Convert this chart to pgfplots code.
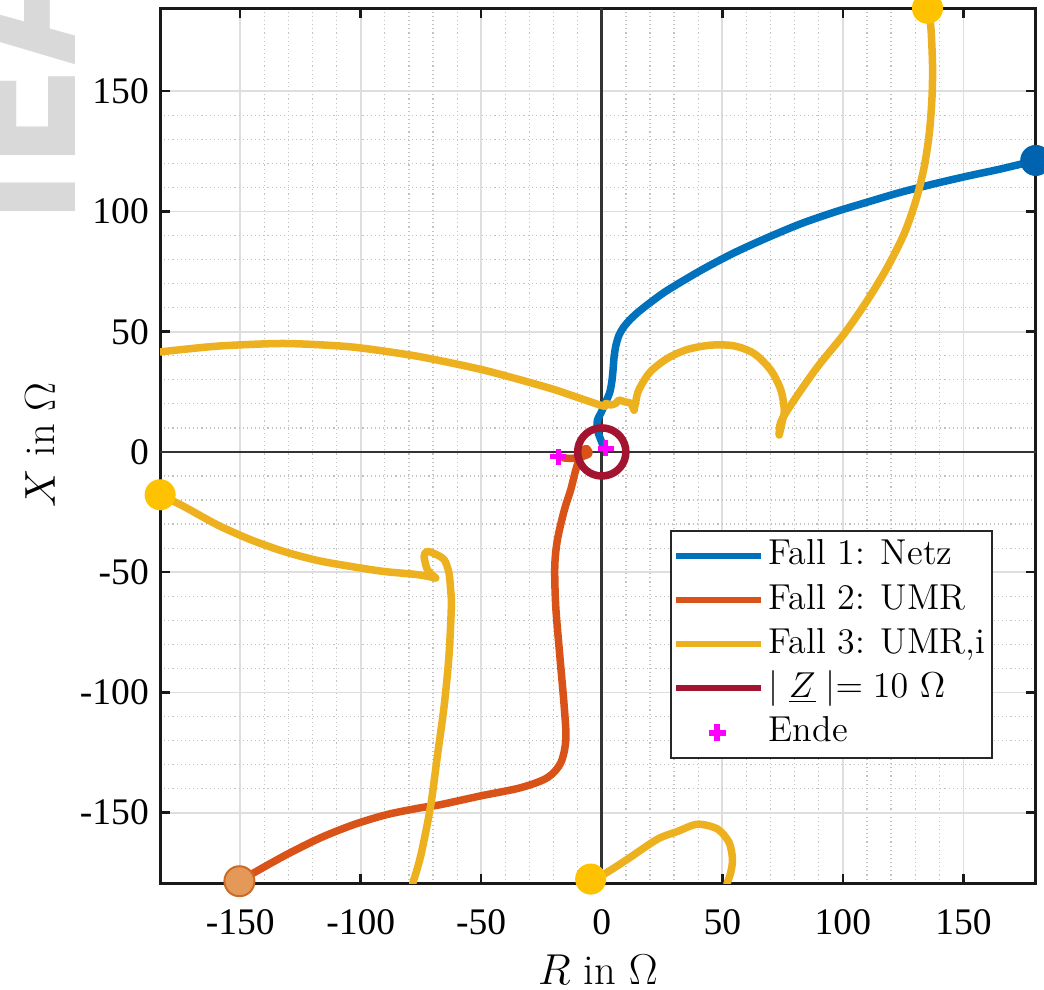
\documentclass[border=0pt]{standalone}
\usepackage{fontspec}
\usepackage{graphicx}
\usepackage{pgfplots}
\pgfplotsset{compat=1.18}
\newfontfamily\timesfont{Liberation Serif}
\newfontfamily\wmfont{DejaVu Sans}
\definecolor{blueC}{rgb}{0,0.447,0.741}
\definecolor{orangeC}{rgb}{0.85,0.325,0.098}
\definecolor{yellowC}{rgb}{0.929,0.694,0.125}
\definecolor{redC}{rgb}{0.635,0.078,0.184}
\definecolor{blueM}{rgb}{0,0.39,0.69}
\definecolor{yellowM}{rgb}{1,0.76,0}
\definecolor{orangeM}{rgb}{0.9,0.6,0.35}
\definecolor{orangeE}{rgb}{0.8,0.42,0.15}
\definecolor{magC}{rgb}{1,0,1}
\begin{document}
\begin{tikzpicture}
\node[rotate=90, anchor=base west, inner sep=0pt, text=black!15, font=\wmfont\bfseries\fontsize{76}{76}\selectfont] at (-34pt,262.9pt) {\scalebox{0.8}[1]{IEA}};
\begin{axis}[
  at={(0pt,0pt)}, anchor=south west,
  width=350pt, height=350pt, scale only axis,
  xmin=-183.2, xmax=180, ymin=-179.6, ymax=184.5,
  xtick={-150,-100,-50,0,50,100,150},
  xticklabels={-150,-100,-50,0,50,100,150},
  ytick={-150,-100,-50,0,50,100,150},
  yticklabels={-150,-100,-50,0,50,100,150},
  minor tick num=4,
  minor tick length=0pt,
  major tick length=4pt,
  tick align=inside,
  major tick style={black!90, line width=1pt},
  grid=both,
  major grid style={black!13, line width=0.7pt},
  minor grid style={black!24, line width=0.5pt, dash pattern=on 0.45pt off 1.2pt},
  axis line style={black!90, line width=1.2pt},
  ticklabel style={font=\timesfont\fontsize{15}{18}\selectfont},
  xticklabel style={anchor=center, yshift=-15.5pt},
  yticklabel style={anchor=east, xshift=-1pt},
  xlabel={$R$ in $\Omega$}, ylabel={$X$ in $\Omega$},
  label style={font=\fontsize{17}{20}\selectfont},
  xlabel style={at={(axis description cs:0.5,-0.098)}, anchor=center},
  ylabel style={at={(axis description cs:-0.137,0.501)}, anchor=center},
  legend cell align=left,
  legend style={at={(0.951,0.143)}, anchor=south east, draw=black!85, line width=0.8pt, fill=white,
    font=\fontsize{14.4}{17}\selectfont, inner xsep=0.6pt, inner ysep=1.1pt, row sep=0pt,
    nodes={inner sep=2pt, text height=10.5pt, text depth=3.2pt}},
]
% zero lines
\addplot[black!80, line width=1.1pt, forget plot] coordinates {(-183.2,0) (180,0)};
\addplot[black!80, line width=1.1pt, forget plot] coordinates {(0,-179.6) (0,184.5)};
% Fall 1
\addplot[blueC, line width=3pt, smooth, tension=0.5, line join=round, line cap=round, forget plot] coordinates {
(180,121.2) (165.6,117.7) (151.7,114.7) (137.9,111.5) (124.1,108.0) (110.2,103.9) (96.4,99.7) (82.6,94.9) (68.7,89.1) (54.9,82.8) (41.1,75.5) (27.2,67.2) (20.5,62.4) (15.5,58.5) (11.8,55.1) (9.0,51.8) (7.0,48.2) (5.8,44.0) (5.1,39.5) (4.7,34.5) (4.2,29.5) (3.3,24.8) (1.7,20.9) (-0.4,16.1) (-1.8,13.3) (-1.8,9.1) (-0.4,5.0) (1.0,1.5)};
% Fall 2
\addplot[orangeC, line width=3pt, smooth, tension=0.5, line join=round, line cap=round, forget plot] coordinates {
(-150.3,-178.5) (-144.5,-175.1) (-130.7,-167.4) (-116.8,-160.5) (-103.0,-155.0) (-89.2,-150.8) (-75.4,-148.0) (-67.1,-146.7) (-50.2,-143.0) (-33.6,-139.6) (-22.5,-135.4) (-17.0,-129.2) (-14.9,-119.5) (-15.6,-105.7) (-17.4,-84.9) (-19.1,-64.2) (-19.5,-47.6) (-18.4,-36.5) (-15.5,-24) (-12.9,-15.8) (-10.8,-7.5) (-8.7,-1.2) (-6.6,1.5) (-5.3,-0.6) (-8.0,-1.9) (-11.5,-2.6) (-14.9,-2.6) (-18.1,-1.9)};
% Fall 3
\addplot[yellowC, line width=3pt, smooth, tension=0.5, line join=round, line cap=round, forget plot] coordinates {
(135.1,184.5) (136.5,176.5) (137.2,159.9) (136.9,146.1) (135.8,132.2) (133.7,118.4) (130.3,104.6) (125.4,90.7) (118.5,76.9) (110.2,63.1) (100.6,49.2) (89.5,35.4) (79.8,21.6) (74.3,12.6) (73.6,7.1)};
\addplot[yellowC, line width=3pt, smooth, tension=0.5, line join=round, line cap=round, forget plot] coordinates {
(73.6,7.1) (75.0,13.3) (75.7,17.4) (74.3,25.7) (70.1,34.0) (63.2,40.9) (54.9,44.1) (45.2,44.4) (35.5,42.6) (27.2,38.9) (20.3,33.5) (16.5,28) (14.8,24.3) (14.1,20.9) (13.4,17.4)};
\addplot[yellowC, line width=3pt, smooth, tension=0.4, line join=round, line cap=round, forget plot] coordinates {
(13.4,17.4) (12.0,20.2) (9.3,20.9) (7.2,21.6) (5.8,20.2) (3.7,19.5) (1.7,20.2) (0.3,19.2) (-21.2,26.4) (-48.8,34.0) (-76.5,39.8) (-104.1,43.7) (-131.8,45.1) (-159.5,44.0) (-183.2,41.6)};
\addplot[yellowC, line width=3pt, smooth, tension=0.5, line join=round, line cap=round, forget plot] coordinates {
(-183.2,-17.8) (-173.3,-22.7) (-159.5,-30.3) (-145.6,-36.5) (-131.8,-41.4) (-118.0,-45.1) (-104.1,-47.6) (-90.3,-49.7) (-76.5,-51.0) (-68.9,-52.4)};
\addplot[yellowC, line width=3pt, smooth, tension=0.5, line join=round, line cap=round, forget plot] coordinates {
(-68.9,-52.4) (-72.3,-49.0) (-73.7,-43.4) (-72.5,-41.4) (-69.6,-42.2) (-65.4,-44.8) (-63.4,-50.3) (-62.7,-57.3) (-62.4,-64.2) (-63.4,-84.9) (-65.4,-105.7) (-68.2,-126.4) (-71.0,-147.2) (-75.1,-167.9) (-78.5,-179.6)};
\addplot[yellowC, line width=3pt, smooth, tension=0.5, line join=round, line cap=round, forget plot] coordinates {
(-4.6,-177.6) (1.0,-175.5) (10.7,-169.3) (23.1,-161.0) (31.4,-157.8) (39.7,-154.8) (48.0,-156.8) (52.8,-162.4) (54.2,-169.3) (53.5,-174.8) (51.9,-179.6)};
% |Z| = 10
\addplot[redC, line width=3pt, line join=round, forget plot] coordinates {
(10,0) (9.848,1.736) (9.397,3.420) (8.660,5.000) (7.660,6.428) (6.428,7.660) (5.000,8.660) (3.420,9.397) (1.736,9.848) (0,10)
(-1.736,9.848) (-3.420,9.397) (-5,8.660) (-6.428,7.660) (-7.660,6.428) (-8.660,5) (-9.397,3.420) (-9.848,1.736) (-10,0)
(-9.848,-1.736) (-9.397,-3.420) (-8.660,-5) (-7.660,-6.428) (-6.428,-7.660) (-5,-8.660) (-3.420,-9.397) (-1.736,-9.848) (0,-10)
(1.736,-9.848) (3.420,-9.397) (5,-8.660) (6.428,-7.660) (7.660,-6.428) (8.660,-5) (9.397,-3.420) (9.848,-1.736) (10,0)} -- cycle;
% start markers
\addplot[only marks, mark=*, mark size=6pt, mark options={fill=blueM, draw=blueM}, forget plot] coordinates {(180,121.2)};
\addplot[only marks, mark=*, mark size=6pt, mark options={fill=orangeM, draw=orangeE, line width=0.8pt}, forget plot] coordinates {(-150.3,-178.5)};
\addplot[only marks, mark=*, mark size=6pt, mark options={fill=yellowM, draw=yellowM}, forget plot] coordinates {(135.1,184.5) (-183.2,-17.8) (-4.6,-177.6)};
% end markers
\addplot[only marks, mark=+, mark size=3.2pt, mark options={draw=magC, line width=2pt}, forget plot] coordinates {(1.7,1.5) (-18.1,-1.9)};
% legend
\addlegendimage{legend image code/.code={\draw[blueC, line width=2.4pt] (0pt,0pt) -- (34pt,0pt);}}
\addlegendentry{Fall 1: Netz}
\addlegendimage{legend image code/.code={\draw[orangeC, line width=2.4pt] (0pt,0pt) -- (34pt,0pt);}}
\addlegendentry{Fall 2: UMR}
\addlegendimage{legend image code/.code={\draw[yellowC, line width=2.4pt] (0pt,0pt) -- (34pt,0pt);}}
\addlegendentry{Fall 3: UMR,i}
\addlegendimage{legend image code/.code={\draw[redC, line width=2.4pt] (0pt,0pt) -- (34pt,0pt);}}
\addlegendentry{$\mid \underline{Z} \mid= 10~\Omega$}
\addlegendimage{legend image code/.code={\draw[magC, line width=2.3pt] (13.1pt,0pt) -- (19.9pt,0pt) (16.5pt,-3.4pt) -- (16.5pt,3.4pt);}}
\addlegendentry{Ende}
\end{axis}
\pgfresetboundingbox
\path[use as bounding box] (-64pt,-42.3pt) rectangle (353.3pt,353.3pt);
\end{tikzpicture}
\end{document}
